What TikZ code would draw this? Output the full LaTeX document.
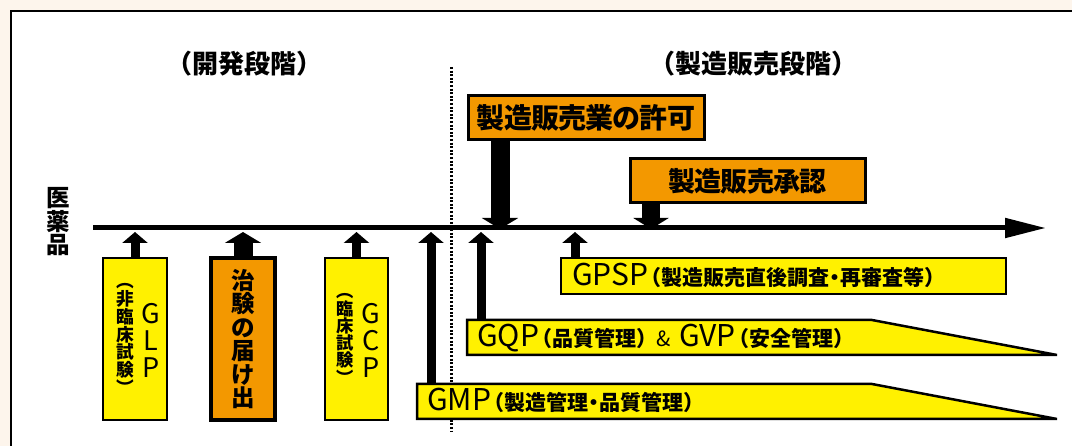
\documentclass[tikz,border=0pt]{standalone}
\usepackage{fontspec}
\setmainfont{Noto Sans CJK JP}
\newfontfamily\jp{Noto Sans CJK JP}
\newfontfamily\jph{Noto Sans CJK JP}[CharacterWidth=AlternateHalf]
\usetikzlibrary{arrows.meta,calc}
\definecolor{cream}{HTML}{FDF5EC}
\definecolor{ylw}{HTML}{FFF100}
\definecolor{org}{HTML}{F39800}
\newcommand\bigLat{\jp\fontsize{30}{30}\selectfont}
\newcommand\parJ{\jph\bfseries\fontsize{21}{21}\selectfont}
\begin{document}
\begin{tikzpicture}[x=1pt,y=-1pt,
  ybox/.style={draw=black, fill=ylw, line width=2.5pt, inner sep=0pt},
  obox/.style={draw=black, fill=org, line width=3.5pt, inner sep=0pt},
  upthin/.style={line width=9pt, -{Triangle[length=11pt,width=25pt]}},
  upthick/.style={line width=19pt, -{Triangle[length=11pt,width=36pt]}},
  downthick/.style={line width=19pt, -{Triangle[length=11pt,width=36pt]}},
  heading/.style={inner sep=0pt, font=\jph\bfseries\fontsize{26}{26}\selectfont},
  vtext/.style={inner sep=0pt, align=center},
  label/.style={anchor=base west, inner sep=0pt},
  trap/.style={draw=black, fill=ylw, line width=2.5pt, line join=miter}
]
\useasboundingbox (0,0) rectangle (1072,446);
\fill[cream] (0,0) rectangle (1072,446);
\clip (0,0) rectangle (1072,446);
\draw[line width=2pt, fill=white] (11,11) rectangle (1100,470);

% headings
\node[heading] (devh) at (244,64) {（開発段階）};
\node[heading] (mkth) at (753,64) {（製造販売段階）};

% dotted divider
\coordinate (divT) at (451,67);
\coordinate (divB) at (451,432);
\draw[line width=3pt, dash pattern=on 2pt off 1.6pt] (divT) -- (divB);

% vertical label
\node[vtext, font=\jp\bfseries\fontsize{23.5}{23.5}\selectfont] (iyaku) at (58,222) {医\\薬\\品};

% main axis
\coordinate (axS) at (93,228);
\coordinate (axE) at (1046,228);
\draw[line width=5pt, -{Triangle[length=41pt,width=19pt]}] (axS) -- (axE);

% license box
\node[obox, line width=3pt, minimum width=236pt, minimum height=44pt,
      font=\jp\bfseries\fontsize{28}{28}\selectfont\addfontfeature{LetterSpace=-3}] (lic) at (586,118) {製造販売業の許可};
\coordinate (licTip) at (500,229);
\draw[downthick] (licTip |- lic.south) -- (licTip);

% approval box
\node[obox, line width=3pt, minimum width=235pt, minimum height=44pt,
      font=\jp\bfseries\fontsize{27}{27}\selectfont\addfontfeature{LetterSpace=-3}] (appr) at (747.5,181) {製造販売承認};
\coordinate (apprTip) at (651,229);
\draw[line width=18pt, -{Triangle[length=11pt,width=35pt]}] (apprTip |- appr.south) -- (apprTip);

% GLP
\node[ybox, minimum width=64pt, minimum height=162pt] (glp) at (135,339) {};
\node[vtext, font=\jp\bfseries\fontsize{17.7}{17.7}\selectfont] (glpj) at (125,339) {︵\\非\\臨\\床\\試\\験\\︶};
\node[vtext, font=\jp\fontsize{27}{27}\selectfont] (glpl) at (151,340) {G\\L\\P};
\coordinate (glpTip) at (135,232);
\draw[upthin] (glp.north) -- (glpTip);

% 治験の届け出
\node[obox, minimum width=64pt, minimum height=162pt] (chk) at (243,339) {};
\node[vtext, font=\jp\bfseries\fontsize{23.5}{23.5}\selectfont] (chkt) at (243,339) {治\\験\\の\\届\\け\\出};
\coordinate (chkTip) at (243,232);
\draw[upthick] (chk.north) -- (chkTip);

% GCP
\node[ybox, minimum width=63pt, minimum height=162pt] (gcp) at (356.5,339) {};
\node[vtext, font=\jp\bfseries\fontsize{17.3}{17.3}\selectfont] (gcpj) at (345,339) {︵\\臨\\床\\試\\験\\︶};
\node[vtext, font=\jp\fontsize{27}{27}\selectfont] (gcpl) at (371,340) {G\\C\\P};
\coordinate (gcpTip) at (356.5,232);
\draw[upthin] (gcp.north) -- (gcpTip);

% GPSP
\node[ybox, minimum width=445pt, minimum height=36pt] (gpsp) at (783.5,276) {};
\node[label] (gpspt) at (572,286) {{\bigLat GPSP}\hspace{3pt}{\parJ （製造販売直後調査・再審査等）}};
\coordinate (gpspTip) at (575,232);
\draw[upthin] (gpspTip |- gpsp.north) -- (gpspTip);

% GQP & GVP
\draw[trap] (467,320) coordinate (gqpA) -- (872,320) -- (1057,355) -- (467,355) -- cycle;
\node[label] (gqpt) at (477,347) {{\bigLat GQP}\hspace{3pt}{\parJ （品質管理）}{\jp\fontsize{21}{21}\selectfont\hspace{9pt}\&\hspace{9pt}}{\bigLat GVP}\hspace{3pt}{\parJ （安全管理）}};
\coordinate (gqpTip) at (481,232);
\coordinate (gqpBase) at (481,320);
\draw[upthin] (gqpBase) -- (gqpTip);

% GMP
\draw[trap] (417,384) coordinate (gmpA) -- (872,384) -- (1057,419) -- (417,419) -- cycle;
\node[label] (gmpt) at (427,411) {{\bigLat GMP}\hspace{3pt}{\parJ （製造管理・品質管理）}};
\coordinate (gmpTip) at (431,232);
\coordinate (gmpBase) at (431,384);
\draw[upthin] (gmpBase) -- (gmpTip);
\end{tikzpicture}
\end{document}
